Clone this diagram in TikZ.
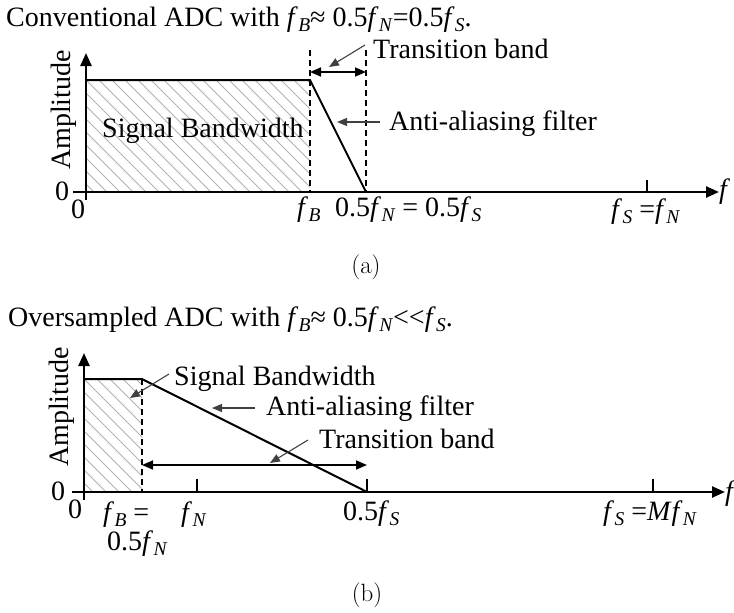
\documentclass[tikz,border=0pt]{standalone}
\usepackage{fontspec}
\newfontfamily\tnr{Liberation Serif}
\usetikzlibrary{arrows.meta}
\newcommand\fx[1]{\textit{f}\kern0.3pt\raisebox{-5pt}[\height][2pt]{\fontsize{19.5}{19.5}\selectfont\textit{#1}}}
\begin{document}
\begin{tikzpicture}[x=1pt,y=-1pt,
  lbl/.style={font=\tnr\fontsize{28}{30}\selectfont, inner sep=0pt, anchor=base west},
  captxt/.style={font=\fontsize{25}{28}\selectfont, inner sep=0pt},
  axisline/.style={line width=2.4pt, -{Triangle[length=13pt,width=11pt]}},
  respline/.style={line width=2pt},
  guideline/.style={line width=1.3pt, dash pattern=on 6pt off 4pt},
  bandarrow/.style={line width=1.6pt, {Triangle[length=11pt,width=9pt]}-{Triangle[length=11pt,width=9pt]}},
  pointarrow/.style={line width=1.1pt, draw=black!75, -{Triangle[length=10pt,width=8pt]}},
  hatchline/.style={line width=0.8pt, draw=black!30},
  tickmark/.style={line width=2.2pt}]
\useasboundingbox (0,0) rectangle (734,613);

% ---------------- panel (a) ----------------
\node[lbl] (ta) at (6,27) {Conventional ADC with \fx{B}≈ 0.5\fx{N}=0.5\fx{S}.};
\begin{scope}
  \clip (86,80) rectangle (310,192);
  \foreach \i in {-10,...,18} \draw[hatchline] ({86+\i*13},80) -- ++(130,130);
\end{scope}
\draw[guideline] (310,50) -- (310,192);
\draw[guideline] (366,50) -- (366,192);
\draw[respline] (86,80) -- (310,80) -- (366,192);
\draw[axisline] (86,200) -- (86,53);
\draw[axisline] (73,192) -- (719,192);
\draw[tickmark] (647,180) -- (647,192);
\coordinate (a1) at (310,72); \coordinate (a2) at (366,72);
\draw[bandarrow] (a1) -- (a2);
\node[lbl] (tba) at (373,58) {Transition band};
\node[lbl] (aaa) at (389,130) {Anti-aliasing filter};
\node[lbl] (sba) at (102,137) {Signal Bandwidth};
\coordinate (pa1) at (365,45); \coordinate (pa1e) at (329,67);
\draw[pointarrow] (pa1) -- (pa1e);
\coordinate (pa2) at (380,122); \coordinate (pa2e) at (337,122);
\draw[pointarrow] (pa2) -- (pa2e);
\node[lbl, rotate=90] (amA) at (70,170) {Amplitude};
\node[lbl] (y0a) at (55,200) {0};
\node[lbl] (x0a) at (71,218) {0};
\node[lbl] (fba) at (297,216) {\fx{B}};
\node[lbl] (fna) at (335,216) {0.5\fx{N} = 0.5\fx{S}};
\node[lbl] (fsa) at (611,218) {\fx{S} =\fx{N}};
\node[lbl] (fa) at (719,198) {\textit{f}};
\node[captxt] (capa) at (366,267) {(a)};

% ---------------- panel (b) ----------------
\node[lbl] (tb) at (8,326) {Oversampled ADC with \fx{B}≈ 0.5\fx{N}<<\fx{S}.};
\begin{scope}
  \clip (84,379) rectangle (142,492);
  \foreach \i in {-10,...,6} \draw[hatchline] ({84+\i*13},379) -- ++(130,130);
\end{scope}
\draw[guideline] (142,379) -- (142,492);
\draw[respline] (84,379) -- (142,379) -- (367,492);
\draw[axisline] (84,500) -- (84,353);
\draw[axisline] (72,492) -- (725,492);
\draw[tickmark] (197,479) -- (197,492);
\draw[tickmark] (367,479) -- (367,492);
\draw[tickmark] (653,479) -- (653,492);
\coordinate (b1) at (142,465); \coordinate (b2) at (367,465);
\draw[bandarrow] (b1) -- (b2);
\node[lbl] (sbb) at (174,385) {Signal Bandwidth};
\node[lbl] (aab) at (266,415) {Anti-aliasing filter};
\node[lbl] (tbb) at (319,448) {Transition band};
\coordinate (pb1) at (169,374); \coordinate (pb1e) at (130,398);
\draw[pointarrow] (pb1) -- (pb1e);
\coordinate (pb2) at (255,408); \coordinate (pb2e) at (212,408);
\draw[pointarrow] (pb2) -- (pb2e);
\coordinate (pb3) at (308,440); \coordinate (pb3e) at (270,463);
\draw[pointarrow] (pb3) -- (pb3e);
\node[lbl, rotate=90] (amB) at (68,467) {Amplitude};
\node[lbl] (y0b) at (51,500) {0};
\node[lbl] (x0b) at (68,518) {0};
\node[lbl] (fbb) at (103,521) {\fx{B} =};
\node[lbl] (fbb2) at (107,550) {0.5\fx{N}};
\node[lbl] (fnb) at (181,521) {\fx{N}};
\node[lbl] (fsb) at (343,520) {0.5\fx{S}};
\node[lbl] (fmb) at (603,520) {\fx{S} =\textit{M}\fx{N}};
\node[lbl] (fb) at (725,500) {\textit{f}};
\node[captxt] (capb) at (367,595) {(b)};
\end{tikzpicture}
\end{document}
